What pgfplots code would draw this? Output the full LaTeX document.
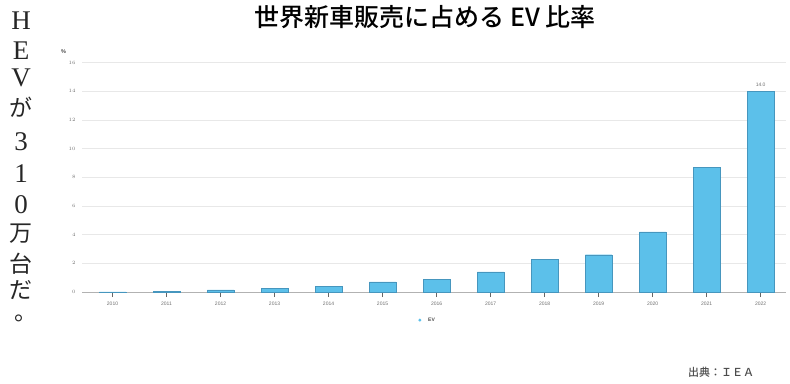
\documentclass[border=0pt]{standalone}
\usepackage{pgfplots}
\pgfplotsset{compat=1.18}
\usepackage{fontspec}
\setmainfont{Liberation Sans}
\newfontfamily\cjk{Noto Sans CJK JP}
\newfontfamily\cjkm{Noto Sans CJK JP Medium}
\newfontfamily\serif{Liberation Serif}
\definecolor{barblue}{RGB}{92,192,234}
\definecolor{baredge}{RGB}{70,150,190}
\definecolor{gridc}{RGB}{232,232,232}
\definecolor{tickc}{RGB}{110,110,110}
\begin{document}
\begin{tikzpicture}
\useasboundingbox (0,0) rectangle (790pt,-383pt);
% vertical text
\foreach \c/\y in {H/21,E/51,V/78,3/142,1/174,0/205}
  \node[inner sep=0pt, font=\serif\fontsize{27}{27}\selectfont, text=black!85] at (21pt,-\y pt) {\c};
\foreach \c/\y in {が/107,万/234,台/264,だ/290}
  \node[inner sep=0pt, font=\cjk\fontsize{23}{23}\selectfont, text=black!85] at (21pt,-\y pt) {\c};
\node[inner sep=0pt, font=\cjk\fontsize{23}{23}\selectfont, text=black!85] at (26pt,-318pt) {。};
% title
\node[font=\cjkm\fontsize{25}{25}\selectfont] at (425pt,-17.5pt) {世界新車販売に占める EV 比率};
% source
\node[font=\cjkm\fontsize{11}{11}\selectfont, text=black!70] at (721pt,-372.5pt) {出典：ＩＥＡ};
\begin{axis}[
  at={(82pt,-292pt)}, anchor=south west,
  scale only axis, width=704pt, height=229.3pt,
  xmin=-0.565, xmax=12.47, ymin=0, ymax=16,
  axis x line*=bottom, axis y line*=left,
  x axis line style={draw=black!30, line width=0.6pt, -},
  y axis line style={draw=none},
  ytick={0,2,...,16}, ymajorgrids, grid style={gridc, line width=0.6pt},
  ytick style={draw=none},
  y tick label style={font=\fontsize{5}{5}\selectfont, text=tickc, xshift=2pt},
  xtick={0,...,12},
  xticklabels={2010,2011,2012,2013,2014,2015,2016,2017,2018,2019,2020,2021,2022},
  x tick label style={font=\fontsize{5}{5}\selectfont, text=tickc, yshift=-1pt},
  xtick style={draw=black!60, line width=0.6pt},
  major tick length=5pt,
  tick align=outside,
  ybar, bar width=26.5pt,
  clip=false,
]
\addplot[fill=barblue, draw=baredge, line width=0.3pt] coordinates {
 (0,0.01) (1,0.05) (2,0.15) (3,0.25) (4,0.4) (5,0.7) (6,0.9) (7,1.4) (8,2.3) (9,2.6) (10,4.2) (11,8.7) (12,14.0)};
\node[font=\fontsize{5}{5}\selectfont, text=tickc, above=1pt] at (axis cs:12,14.0) {14.0};
\node[font=\bfseries\fontsize{5.5}{5.5}\selectfont, text=black!70] at (axis cs:-0.907,16.75) {\%};
\fill[barblue] (axis cs:5.69,-1.96) circle (1.6pt);
\node[font=\bfseries\fontsize{5}{5}\selectfont, text=black!70, anchor=west] at (axis cs:5.78,-1.96) {EV};
\end{axis}
\end{tikzpicture}
\end{document}
